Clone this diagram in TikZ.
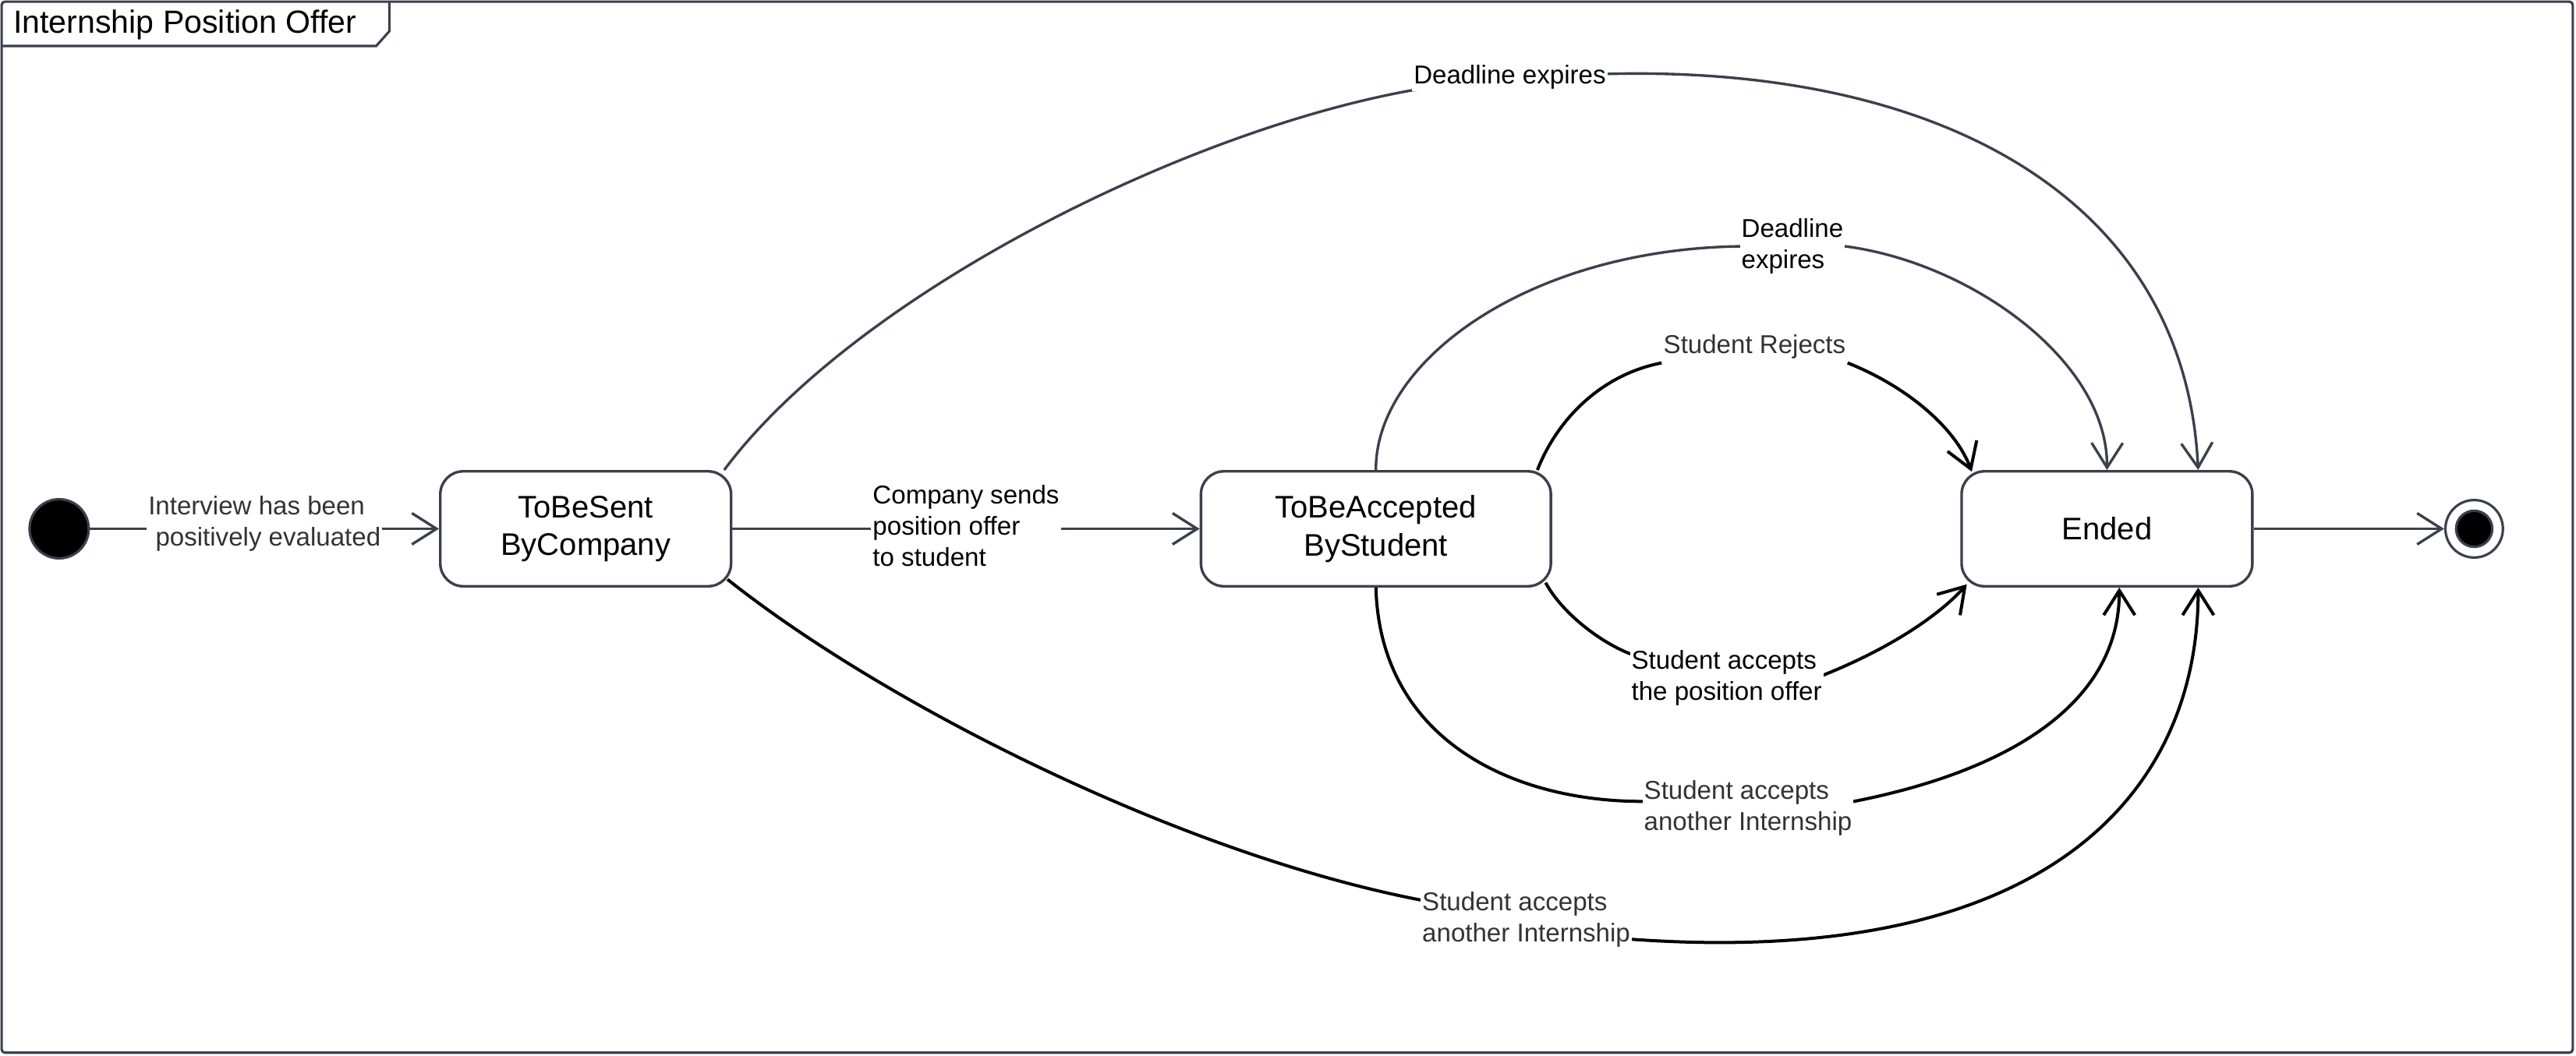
\documentclass[tikz,border=0pt]{standalone}
\usepackage{fontspec}
\setmainfont{Liberation Sans}
\usetikzlibrary{arrows.meta}
\definecolor{edgegray}{RGB}{58,65,76}
\definecolor{labgray}{RGB}{51,51,51}
\pgfdeclarelayer{bg}
\pgfsetlayers{bg,main}
\begin{document}
\begin{tikzpicture}[x=1pt,y=-1pt,
  statebox/.style={draw=edgegray,line width=1.6pt,rounded corners=14pt,fill=white,minimum height=70pt,inner sep=0pt,align=center,font=\fontsize{19}{23}\selectfont},
  lab/.style={fill=white,inner sep=1pt,font=\fontsize{15.7}{19}\selectfont,align=left},
  gedge/.style={draw=edgegray,line width=1.6pt,-{Straight Barb[length=15pt,width=19pt,line width=1.6pt]}},
  bedge/.style={draw=black,line width=1.9pt,-{Straight Barb[length=15pt,width=19pt,line width=1.9pt]}},
  pseudo/.style={circle,draw=edgegray,line width=1.5pt,inner sep=0pt}
]
\useasboundingbox (0,0) rectangle (1568,642.6);
% frame
\draw[edgegray,line width=1.5pt,rounded corners=2pt] (1,1) rectangle (1566,641);
\draw[edgegray,line width=1.5pt] (1,28) -- (229,28) -- (237,19) -- (237,1);
\node[anchor=base west,inner sep=0pt,font=\fontsize{19.5}{23}\selectfont] (title) at (8,20) {Internship Position Offer};

% states
\node[pseudo,fill=black,minimum size=36pt] (init) at (36,322) {};
\node[statebox,minimum width=177pt] (s1) at (356.5,322) {ToBeSent\\ByCompany};
\node[statebox,minimum width=213pt] (s2) at (837.5,322) {ToBeAccepted\\ByStudent};
\node[statebox,minimum width=177pt] (s3) at (1282.5,322) {Ended};
\node[pseudo,fill=white,minimum size=35pt] (fin) at (1506,322) {};
\node[pseudo,fill=black,minimum size=22pt] (fincore) at (fin) {};

% labels
\node[lab,text=labgray] (l1) at (161,319) {Interview has been\\\hspace*{4.4pt}positively evaluated};
\node[lab] (l2) at (588,320) {Company sends\\position offer\\to student};
\node[lab] (ld1) at (919,47) {Deadline expires};
\node[lab] (ld2) at (1091,150) {Deadline\\expires};
\node[lab,text=labgray] (lr) at (1068,211) {Student Rejects};
\node[lab] (lp) at (1051,413) {Student accepts\\the position offer};
\node[lab,text=labgray] (la1) at (1064,492) {Student accepts\\another Internship};
\node[lab,text=labgray] (la2) at (929,560) {Student accepts\\another Internship};

% connectors
\begin{pgfonlayer}{bg}
\draw[gedge] (init) -- (s1);
\draw[gedge] (s1) -- (s2);
\draw[gedge] (s3) -- (fin);
% outer deadline
\draw[gedge] ([xshift=-5pt]s1.north east) .. controls (520,180) and (720,80) .. ([yshift=-8pt]ld1.west)
  -- ([yshift=2pt]ld1.east) .. controls (1180,40) and (1330,120) .. ([xshift=55.5pt]s3.north);
% inner deadline
\draw[gedge] (s2.north) .. controls (837,220) and (930,152) .. (ld2.west)
  -- (ld2.east) .. controls (1200,160) and (1283,220) .. (s3.north);
% student rejects
\draw[bedge] ([xshift=-9pt]s2.north east) .. controls (948,255) and (975,228) .. ([yshift=-10pt]lr.west)
  ([yshift=-10pt]lr.east) .. controls (1160,235) and (1190,260) .. ([xshift=7pt,yshift=-1pt]s3.north west);
% student accepts position offer
\draw[bedge] ([xshift=-4pt,yshift=3pt]s2.south east) .. controls (950,372) and (972,390) .. ([yshift=15pt]lp.west)
  -- ([yshift=2pt]lp.east) .. controls (1150,395) and (1180,375) .. ([xshift=4pt,yshift=2pt]s3.south west);
% inner another internship
\draw[bedge] (s2.south) .. controls (840,450) and (920,488) .. ([yshift=4pt]la1.west)
  -- ([yshift=4pt]la1.east) .. controls (1220,470) and (1290,430) .. ([xshift=7.5pt]s3.south);
% outer another internship
\draw[bedge] ([xshift=-3pt,yshift=5pt]s1.south east) .. controls (540,430) and (720,520) .. ([yshift=12pt]la2.west)
  -- ([yshift=-12pt]la2.east) .. controls (1250,590) and (1338,480) .. ([xshift=55.5pt]s3.south);
\end{pgfonlayer}
\end{tikzpicture}
\end{document}
